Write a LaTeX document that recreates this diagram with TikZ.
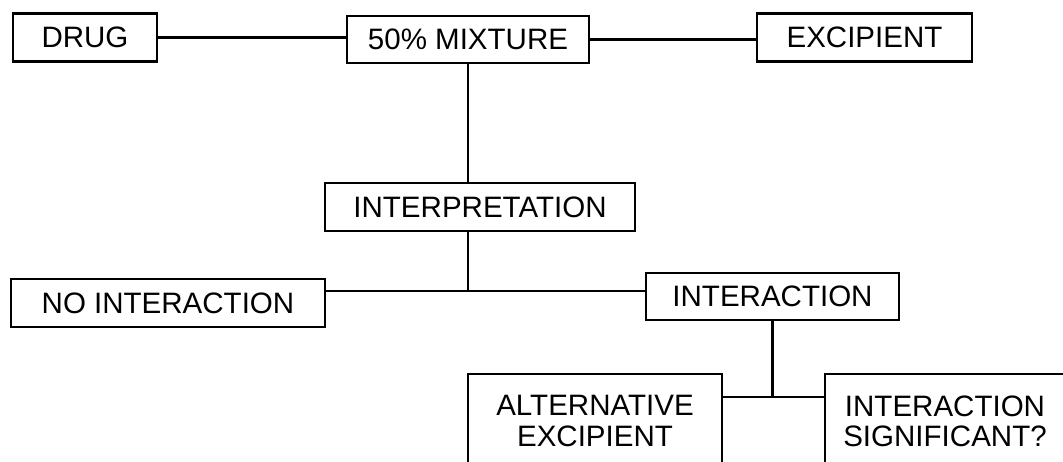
\documentclass[tikz,border=0pt]{standalone}
\usepackage{fontspec}
\setmainfont{Liberation Sans}
\usepackage{tikz}
\usetikzlibrary{calc}
\usetikzlibrary{positioning}
\tikzstyle{stage}=[draw=black, inner sep=0, minimum height=1.2cm,
                   font=\fontsize{21}{21.5}\selectfont, align=center]

\begin{document}
\begin{tikzpicture}[line width=1.5pt]
\useasboundingbox (0,0) rectangle (26.575,11.55);
\clip (0,0) rectangle (26.575,11.55);
\node[stage, minimum width=3.6cm] (drug) at (2.125,10.6125) {DRUG};
\node[stage, minimum width=6.05cm, minimum height=1.175cm] (mix) at (11.7,10.5625) {50\% MIXTURE};
\node[stage, minimum width=5.375cm] (excip) at (21.6125,10.6125) {EXCIPIENT};
\node[stage, minimum width=7.75cm] (interp) at (12.0,6.375) {INTERPRETATION};
\node[stage, minimum width=7.85cm] (noint) at (4.2,3.975) {NO INTERACTION};
\node[stage, minimum width=6.325cm, minimum height=1.175cm] (inter) at (19.3125,4.1375) {INTERACTION};
\node[stage, minimum width=6.35cm, minimum height=2.35cm, anchor=north] (alt) at (14.875,2.225) {ALTERNATIVE\\EXCIPIENT};
\node[stage, minimum width=6cm, minimum height=2.35cm, anchor=north] (sig) at (23.625,2.225) {INTERACTION\\SIGNIFICANT?};
\coordinate (j1) at (11.7,4.275);
\coordinate (j2) at (19.3125,1.625);
\draw (drug.east) -- (drug.east -| mix.west);
\draw (mix.east) -- (mix.east -| excip.west);
\draw (mix.south) -- (mix.south |- interp.north);
\draw (interp.south -| mix.south) -- (j1);
\draw (noint.east |- j1) -- (inter.west |- j1);
\draw (inter.south) -- (j2);
\draw (alt.east |- j2) -- (sig.west |- j2);
\end{tikzpicture}
\end{document}
